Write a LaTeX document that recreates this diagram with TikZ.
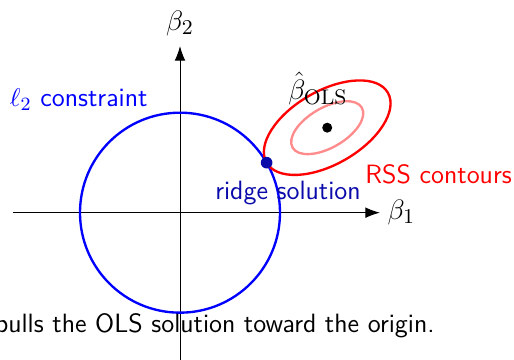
\documentclass[tikz,border=0pt]{standalone}
\usepackage{tikz}
\usetikzlibrary{arrows.meta,positioning}
\definecolor{ridgeblue}{RGB}{10,10,170}
\tikzset{
  axis/.style={-{Latex[length=2.2mm,width=1.6mm]}, thin},
  lbl/.style={font=\sffamily\fontsize{11.3}{13}\selectfont, inner sep=1pt},
  mlbl/.style={font=\fontsize{13}{15}\selectfont, inner sep=1pt},
  ball/.style={blue, line width=1pt},
  contour/.style={red, line width=1pt},
  contourin/.style={red!45, line width=1pt},
  dot/.style={circle, fill, inner sep=0pt, minimum size=#1}
}
\begin{document}
\begin{tikzpicture}
\useasboundingbox (-2.70,-2.20) rectangle (5.01,3.19);
\clip (-2.70,-2.20) rectangle (5.01,3.19);
\coordinate (O) at (0,0);
\coordinate (ols) at (30:2.55);
\coordinate (tan) at (30:1.5);
% axes
\draw[axis] (-2.5,0) -- (3,0) node[mlbl, right, inner sep=3pt] (b1) {$\beta_1$};
\draw[axis] (0,-2.5) -- (0,2.5) node[mlbl, above, inner sep=4pt] (b2) {$\beta_2$};
% constraint and contours
\draw[ball] (O) circle (1.5);
\draw[contour, shift={(ols)}, rotate=30] (0,0) ellipse (1.05 and 0.55);
\draw[contourin, shift={(ols)}, rotate=30] (0,0) ellipse (0.6 and 0.3);
\node[dot=1.5mm] (bols) at (ols) {};
\node[dot=1.75mm, ridgeblue] (ridge) at (tan) {};
% labels
\node[lbl, blue] (l2) at (-1.52,1.70) {$\ell_2$ constraint};
\node[lbl, anchor=west, red] (rss) at (2.74,0.57) {RSS contours};
\node[lbl, ridgeblue] (rs) at (1.62,0.30) {ridge solution};
\node[mlbl] (bhat) at (2.07,1.86) {$\hat{\beta}_{\mathrm{OLS}}$};
\node[lbl, anchor=base east] (cap) at (3.86,-1.80) {pulls the OLS solution toward the origin.};
\end{tikzpicture}
\end{document}
